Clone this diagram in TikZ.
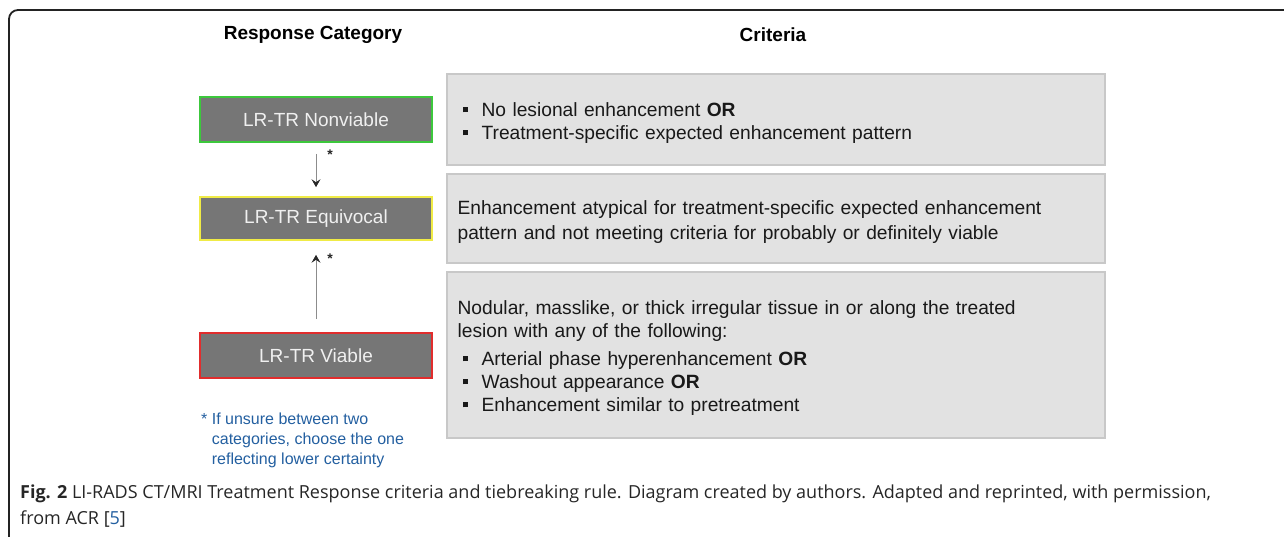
\documentclass[tikz,border=0pt]{standalone}
\usepackage{fontspec}
\setmainfont{Liberation Sans}
\newfontfamily\capfont{Open Sans}
\usetikzlibrary{arrows.meta}
\definecolor{catfill}{RGB}{118,118,118}
\definecolor{catgreen}{RGB}{60,200,60}
\definecolor{catyellow}{RGB}{240,235,70}
\definecolor{catred}{RGB}{225,45,45}
\definecolor{crfill}{RGB}{226,226,226}
\definecolor{crdraw}{RGB}{200,200,200}
\definecolor{crtext}{RGB}{25,25,25}
\definecolor{notecol}{RGB}{35,95,160}
\definecolor{arrcol}{RGB}{140,140,140}
\definecolor{tipcol}{RGB}{40,40,40}
\definecolor{framecol}{RGB}{35,35,35}
\newcommand{\bul}{\makebox[24pt][l]{\hspace{5pt}\rule[4pt]{5pt}{5pt}}}
\tikzset{
  catbox/.style={fill=catfill, line width=1.6pt, minimum width=232pt, inner sep=0pt,
    text=white!94!black, font=\fontsize{19}{23}\selectfont},
  crbox/.style={fill=crfill, draw=crdraw, line width=1.2pt, minimum width=658pt, inner sep=0pt},
  crtxt/.style={anchor=west, text width=636pt, inner xsep=11pt, inner ysep=0pt, align=left,
    text=crtext, font=\fontsize{19.2}{23}\selectfont},
  header/.style={font=\bfseries\fontsize{19}{23}\selectfont, text=black},
  tiearrow/.style={draw=arrcol, line width=1pt, -{Stealth[length=8pt,width=9pt,inset=3pt,color=tipcol]}},
  star/.style={font=\bfseries\fontsize{14}{14}\selectfont, inner sep=0pt, text=black!85},
  note/.style={text=notecol, align=left, inner sep=0pt, font=\fontsize{16}{20}\selectfont},
  caption/.style={align=left, inner sep=0pt, text=black!85, font=\capfont\fontsize{18}{26}\selectfont}
}
\begin{document}
\begin{tikzpicture}[x=1pt,y=-1pt]
\useasboundingbox (0,0) rectangle (1284,537);
% frame
\draw[framecol, line width=1.8pt, rounded corners=9pt] (9,560) -- (9,10) -- (1300,10);

% headers
\node[header] (h1) at (313,35) {Response Category};
\node[header] (h2) at (773,35) {Criteria};

% category boxes
\node[catbox, draw=catgreen, minimum height=45pt] (nv) at (316,119.5) {LR-TR Nonviable};
\node[catbox, draw=catyellow, minimum height=43pt] (eq) at (316,218.5) {LR-TR Equivocal};
\node[catbox, draw=catred, minimum height=45pt] (vi) at (316,355.5) {LR-TR Viable};

% arrows
\draw[tiearrow, shorten <=11pt, shorten >=9pt] (nv) -- (eq);
\draw[tiearrow, shorten <=13pt, shorten >=14pt] (vi) -- (eq);
\node[star] (s1) at (330,155) {*};
\node[star] (s2) at (330,259) {*};

% criteria boxes
\node[crbox, minimum height=91pt] (c1) at (776,119.5) {};
\node[crbox, minimum height=89pt] (c2) at (776,218.5) {};
\node[crbox, minimum height=166pt] (c3) at (776,355) {};
\node[crtxt] (t1) at ([yshift=-3.5pt]c1.west)
  {\bul No lesional enhancement \textbf{OR}\\
   \bul Treatment-specific expected enhancement pattern};
\node[crtxt] (t2) at ([yshift=-3.5pt]c2.west)
  {Enhancement atypical for treatment-specific expected enhancement\\[2pt]
   pattern and not meeting criteria for probably or definitely viable};
\node[crtxt] (t3) at ([yshift=-3pt]c3.west)
  {Nodular, masslike, or thick irregular tissue in or along the treated\\
   lesion with any of the following:\\[5pt]
   \bul Arterial phase hyperenhancement \textbf{OR}\\
   \bul Washout appearance \textbf{OR}\\
   \bul Enhancement similar to pretreatment};

% footnote
\node[note, anchor=north west] (fn) at (201,413)
  {* If unsure between two\\
   \hphantom{*}~categories, choose the one\\
   \hphantom{*}~reflecting lower certainty};

% caption
\node[caption, anchor=north west] (cap) at (20,485)
  {\textbf{Fig. 2} LI-RADS CT/MRI Treatment Response criteria and tiebreaking rule. Diagram created by authors. Adapted and reprinted, with permission,\\
   from ACR [{\color{notecol}5}]};
\end{tikzpicture}
\end{document}
